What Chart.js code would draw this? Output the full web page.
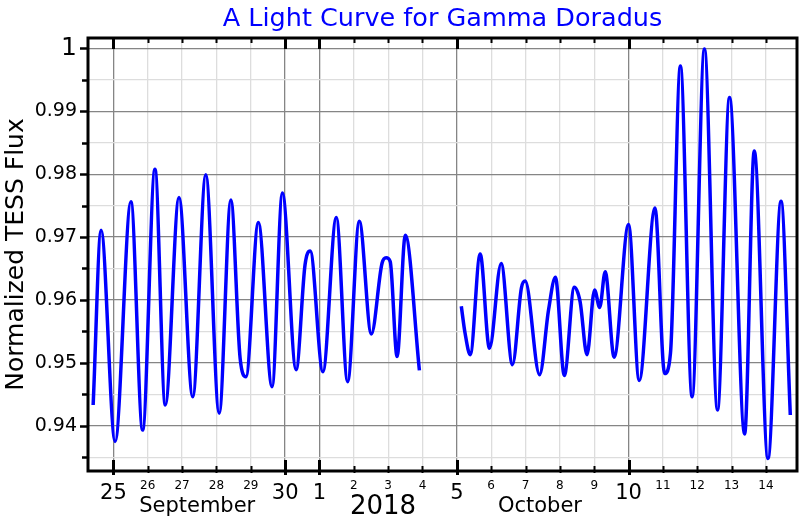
<!DOCTYPE html>
<html>
<head>
<meta charset="utf-8">
<script src="https://cdn.jsdelivr.net/npm/chart.js@4/dist/chart.umd.min.js"></script>
<style>
  html, body { margin: 0; padding: 0; background: #ffffff; }
  #wrap { width: 800px; height: 520px; }
</style>
</head>
<body>
<div id="wrap"><canvas id="c" width="800" height="520"></canvas></div>
<script>
// ---- Data (x = day count with 1 Sep = 1, so 1 Oct = 31) ----
const seg1Days = [24.41, 24.64, 25.05, 25.51, 25.85, 26.21, 26.51, 26.91, 27.31, 27.69, 28.08, 28.42, 28.69, 28.86,
  29.22, 29.62, 29.92, 30.32, 30.58, 30.73, 31.10, 31.49, 31.82, 32.16, 32.51, 32.82, 32.94, 33.06, 33.26, 33.50, 33.91];
const seg1Flux = [0.9433, 0.9711, 0.9375, 0.9756, 0.9393, 0.9808, 0.9433, 0.9763, 0.9446, 0.9799, 0.9420, 0.9759, 0.9507, 0.9478,
  0.9723, 0.9462, 0.9770, 0.9489, 0.9656, 0.9678, 0.9486, 0.9731, 0.9470, 0.9725, 0.9546, 0.9658, 0.9667, 0.9661, 0.9510, 0.9703, 0.9488];

const seg2Days = [35.13, 35.24, 35.39, 35.68, 35.95, 36.29, 36.62, 36.88, 36.99, 37.41, 37.67, 37.87, 38.13, 38.42, 38.59, 38.79,
  39.01, 39.16, 39.32, 39.58, 40.00, 40.31, 40.77, 41.05, 41.22, 41.51, 41.85, 42.21, 42.59, 42.94, 43.38, 43.66, 44.06, 44.44, 44.71];
const seg2Flux = [0.9590, 0.9547, 0.9513, 0.9673, 0.9523, 0.9658, 0.9497, 0.9619, 0.9630, 0.9481, 0.9584, 0.9636, 0.9480, 0.9620, 0.9597, 0.9513,
  0.9616, 0.9588, 0.9645, 0.9509, 0.9720, 0.9472, 0.9746, 0.9483, 0.9515, 0.9972, 0.9446, 0.9999, 0.9425, 0.9922, 0.9387, 0.9837, 0.9348, 0.9757, 0.9417];

const xTickDays   = [25, 26, 27, 28, 29, 30, 31, 32, 33, 34, 35, 36, 37, 38, 39, 40, 41, 42, 43, 44];
const xTickLabels = ['25','26','27','28','29','30','1','2','3','4','5','6','7','8','9','10','11','12','13','14'];
const xMajorDays  = [25, 30, 31, 35, 40];
const periodLabelDays = [27.44, 32.85, 37.42];
const periodLabels    = ['September', '2018', 'October'];
const yTickValues = [0.935, 0.94, 0.945, 0.95, 0.955, 0.96, 0.965, 0.97, 0.975, 0.98, 0.985, 0.99, 0.995, 1.0];

const FONT = "'DejaVu Sans', 'Liberation Sans', sans-serif";
const BLUE = '#0000ff';
const near = (a, b) => Math.abs(a - b) < 1e-6;
const dayIndex = v => xTickDays.findIndex(d => near(d, v));
const periodIndex = v => periodLabelDays.findIndex(d => near(d, v));
const isMajorX = v => xMajorDays.some(d => near(d, v));
const isMajorY = v => Math.abs(v * 100 - Math.round(v * 100)) < 1e-6;

const tickFramePlugin = {
  id: 'tickFrame',
  afterDatasetsDraw(chart) {
    const ctx = chart.ctx;
    const a = chart.chartArea;
    const xs = chart.scales.x, ys = chart.scales.y;
    ctx.save();
    ctx.strokeStyle = '#000';
    ctx.lineCap = 'butt';
    xTickDays.forEach(d => {
      const px = Math.round(xs.getPixelForValue(d)) + 0.5;
      const maj = isMajorX(d);
      ctx.lineWidth = maj ? 3 : 2;
      ctx.beginPath();
      ctx.moveTo(px, a.bottom + (maj ? 4 : 2));
      ctx.lineTo(px, a.bottom - (maj ? 11 : 5));
      ctx.moveTo(px, a.top);
      ctx.lineTo(px, a.top + (maj ? 11 : 5));
      ctx.stroke();
    });
    yTickValues.forEach(v => {
      const py = Math.round(ys.getPixelForValue(v)) + 0.5;
      const maj = isMajorY(v);
      ctx.lineWidth = 2.5;
      ctx.beginPath();
      ctx.moveTo(a.left - (maj ? 8 : 6), py);
      ctx.lineTo(a.left, py);
      ctx.stroke();
    });
    ctx.lineWidth = 3;
    ctx.strokeRect(a.left, a.top, a.right - a.left, a.bottom - a.top);
    ctx.restore();
  }
};

function xTickFont(c) {
  const v = c.tick ? c.tick.value : NaN;
  const p = periodIndex(v);
  if (p === 1) return { family: FONT, size: 26, lineHeight: 56 / 26 };
  if (p >= 0) return { family: FONT, size: 21, lineHeight: 56 / 21 };
  if (isMajorX(v)) return { family: FONT, size: 21, lineHeight: 1.4 };
  return { family: FONT, size: 12, lineHeight: 1.2 };
}

new Chart(document.getElementById('c'), {
  type: 'line',
  data: {
    datasets: [
      { data: seg1Days.map((d, i) => ({ x: d, y: seg1Flux[i] })) },
      { data: seg2Days.map((d, i) => ({ x: d, y: seg2Flux[i] })) }
    ]
  },
  options: {
    responsive: false,
    animation: false,
    devicePixelRatio: 1,
    layout: { padding: { left: 0, right: 3, top: 0, bottom: 0 } },
    elements: {
      line: { borderColor: BLUE, borderWidth: 3.5, cubicInterpolationMode: 'monotone', fill: false },
      point: { radius: 0, hoverRadius: 0 }
    },
    plugins: {
      legend: { display: false },
      tooltip: { enabled: false },
      title: {
        display: true,
        text: 'A Light Curve for Gamma Doradus',
        color: BLUE,
        fullSize: false,
        font: { family: FONT, size: 25.5, weight: 'normal', lineHeight: 30 / 25.5 },
        padding: { top: 4, bottom: 4 }
      }
    },
    scales: {
      x: {
        type: 'linear',
        position: 'bottom',
        min: 24.26,
        max: 44.905,
        afterBuildTicks: s => {
          s.ticks = xTickDays.concat(periodLabelDays).sort((a, b) => a - b).map(v => ({ value: v }));
        },
        afterFit: s => { s.height = 49; },
        border: { display: false },
        grid: {
          drawTicks: false,
          color: c => {
            if (!c.tick || periodIndex(c.tick.value) >= 0) return 'rgba(0,0,0,0)';
            return isMajorX(c.tick.value) ? '#858585' : '#dddddd';
          },
          lineWidth: 1.3
        },
        ticks: {
          autoSkip: false,
          maxRotation: 0,
          minRotation: 0,
          padding: 8,
          color: '#000',
          callback: v => {
            const p = periodIndex(v);
            if (p >= 0) return periodLabels[p];
            const i = dayIndex(v);
            return i >= 0 ? xTickLabels[i] : '';
          },
          font: xTickFont
        }
      },
      y: {
        type: 'linear',
        min: 0.9328,
        max: 1.00165,
        afterBuildTicks: s => { s.ticks = yTickValues.map(v => ({ value: v })); },
        afterFit: s => { s.width = 88; },
        border: { display: false },
        grid: {
          drawTicks: false,
          color: c => (c.tick && isMajorY(c.tick.value)) ? '#858585' : '#dddddd',
          lineWidth: 1.3
        },
        ticks: {
          padding: 11,
          color: '#000',
          callback: v => isMajorY(v) ? (Math.abs(v - 1) < 1e-9 ? '1' : v.toFixed(2)) : '',
          font: c => (c.tick && Math.abs(c.tick.value - 1) < 1e-9)
            ? { family: FONT, size: 25 }
            : { family: FONT, size: 19 }
        },
        title: {
          display: true,
          text: 'Normalized TESS Flux',
          color: '#000',
          font: { family: FONT, size: 25, lineHeight: 1.2 },
          padding: { top: 1, bottom: 0 }
        }
      }
    }
  },
  plugins: [tickFramePlugin]
});
</script>
</body>
</html>
